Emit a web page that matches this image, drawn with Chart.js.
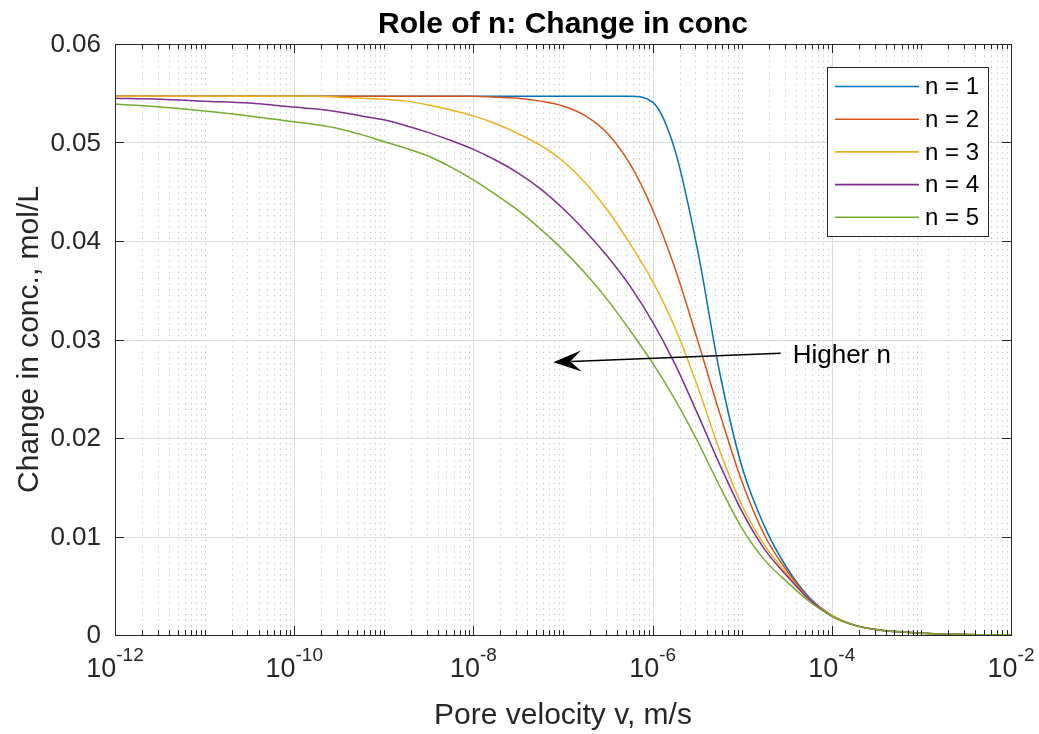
<!DOCTYPE html>
<html>
<head>
<meta charset="utf-8">
<script src="https://cdn.jsdelivr.net/npm/chart.js@4.4.1/dist/chart.umd.min.js"></script>
<style>
  html, body { margin: 0; padding: 0; background: #fff; }
</style>
</head>
<body>
<canvas id="chart" width="1039" height="734"></canvas>
<script>
// pore velocity v, m/s
const velocity = [
  1e-12, 3.16e-12, 1e-11, 3.16e-11, 1e-10, 1.78e-10, 3.16e-10, 5.62e-10, 1e-9, 1.78e-9,
  3.16e-9, 5.62e-9, 1e-8, 1.78e-8, 3.16e-8, 5.62e-8, 1e-7, 1.78e-7, 3.16e-7, 5.62e-7,
  1e-6, 1.78e-6, 3.16e-6, 5.62e-6, 1e-5, 1.78e-5, 3.16e-5, 5.62e-5, 1e-4, 1.78e-4,
  3.16e-4, 1e-3, 3.16e-3, 1e-2
];

// change in conc., mol/L
const concN1 = [
  0.0547, 0.0547, 0.0547, 0.0547, 0.0547, 0.0547, 0.0547, 0.0547, 0.0547, 0.0547,
  0.0547, 0.0547, 0.0547, 0.0547, 0.0547, 0.0547, 0.0547, 0.0547, 0.0547, 0.0547,
  0.0541, 0.0492, 0.0392, 0.0266, 0.0170, 0.0110, 0.0068, 0.0038, 0.0020, 0.0010,
  0.00055, 0.00019, 0.00006, 0.00002
];
const concN2 = [
  0.0547, 0.0547, 0.0547, 0.0547, 0.0547, 0.0547, 0.0547, 0.0547, 0.0547, 0.0547,
  0.0547, 0.0547, 0.0547, 0.0546, 0.0545, 0.0542, 0.0537, 0.0527, 0.0509, 0.0478,
  0.0432, 0.0372, 0.0300, 0.0225, 0.0155, 0.0101, 0.0065, 0.0037, 0.0020, 0.0010,
  0.00055, 0.00019, 0.00006, 0.00002
];
const concN3 = [
  0.0547, 0.0547, 0.0547, 0.0547, 0.0547, 0.0547, 0.0546, 0.0545, 0.0544, 0.0542,
  0.0538, 0.0533, 0.0527, 0.0519, 0.0509, 0.0497, 0.0481, 0.0459, 0.0431, 0.0397,
  0.0359, 0.0312, 0.0253, 0.0187, 0.0131, 0.0091, 0.0062, 0.0036, 0.0020, 0.0010,
  0.00054, 0.00019, 0.00006, 0.00002
];
const concN4 = [
  0.0545, 0.0544, 0.0542, 0.0540, 0.0536, 0.0534, 0.0531, 0.0527, 0.0523, 0.0517,
  0.0510, 0.0502, 0.0493, 0.0482, 0.0469, 0.0453, 0.0433, 0.0410, 0.0384, 0.0354,
  0.0318, 0.0275, 0.0225, 0.0173, 0.0125, 0.0087, 0.0060, 0.0036, 0.0019, 0.0010,
  0.00054, 0.00019, 0.00006, 0.00002
];
const concN5 = [
  0.0539, 0.0536, 0.0532, 0.0527, 0.0521, 0.0518, 0.0514, 0.0508, 0.0501, 0.0494,
  0.0486, 0.0475, 0.0462, 0.0447, 0.0431, 0.0412, 0.0391, 0.0367, 0.0340, 0.0309,
  0.0276, 0.0239, 0.0197, 0.0151, 0.0108, 0.0076, 0.0054, 0.0034, 0.0019, 0.0010,
  0.00053, 0.00019, 0.00006, 0.00002
];

const seriesLabels = ['n = 1', 'n = 2', 'n = 3', 'n = 4', 'n = 5'];
const seriesValues = [concN1, concN2, concN3, concN4, concN5];
const seriesColors = ['#0072BD', '#D95319', '#EDB120', '#7E2F8E', '#77AC30'];

const xTickExponents = [-12, -10, -8, -6, -4, -2];
const yTicks = [0, 0.01, 0.02, 0.03, 0.04, 0.05, 0.06];
const yTickLabels = ['0', '0.01', '0.02', '0.03', '0.04', '0.05', '0.06'];

const titleText = 'Role of n: Change in conc';
const xTitle = 'Pore velocity v, m/s';
const yTitle = 'Change in conc., mol/L';

// "Higher n" arrow, in data units
const note = {
  text: 'Higher n',
  from: { x: 2.69e-5, y: 0.0286 },
  to: { x: 7.8e-8, y: 0.0277 },
  textAt: { x: 3.66e-5, y: 0.0283 }
};

const FONT = '"Liberation Sans", Arial, Helvetica, sans-serif';
const INK = '#262626';

function seg(ctx, x0, y0, x1, y1) {
  ctx.beginPath();
  ctx.moveTo(x0, y0);
  ctx.lineTo(x1, y1);
  ctx.stroke();
}

const matlabLook = {
  id: 'matlabLook',
  beforeDatasetsDraw(chart) {
    const { ctx, chartArea: a, scales: { x, y } } = chart;
    ctx.save();
    // minor dotted grid
    ctx.strokeStyle = 'rgba(60,60,60,0.32)';
    ctx.lineWidth = 1;
    ctx.setLineDash([1.2, 4.5]);
    for (let e = -12; e < -2; e++) {
      for (let m = 1; m < 10; m++) {
        if (m === 1 && e % 2 === 0) continue;
        const px = Math.round(x.getPixelForValue(m * Math.pow(10, e))) + 0.5;
        seg(ctx, px, a.top, px, a.bottom);
      }
    }
    ctx.setLineDash([]);
    // major grid
    ctx.strokeStyle = '#dcdcdc';
    xTickExponents.forEach(e => {
      const px = Math.round(x.getPixelForValue(Math.pow(10, e))) + 0.5;
      seg(ctx, px, a.top, px, a.bottom);
    });
    yTicks.forEach(v => {
      const py = Math.round(y.getPixelForValue(v)) + 0.5;
      seg(ctx, a.left, py, a.right, py);
    });
    ctx.restore();
  },
  afterDatasetsDraw(chart) {
    const { ctx, chartArea: a, scales: { x, y } } = chart;
    ctx.save();
    ctx.strokeStyle = INK;
    ctx.fillStyle = INK;
    ctx.lineWidth = 1;

    // axes box
    ctx.strokeRect(Math.round(a.left) + 0.5, Math.round(a.top) + 0.5,
      Math.round(a.right - a.left), Math.round(a.bottom - a.top));

    // x ticks (top and bottom, inward)
    for (let e = -12; e <= -2; e++) {
      for (let m = 1; m < 10; m++) {
        if (e === -2 && m > 1) break;
        const major = m === 1 && e % 2 === 0;
        const len = major ? 9 : 5;
        const px = Math.round(x.getPixelForValue(m * Math.pow(10, e))) + 0.5;
        seg(ctx, px, a.bottom, px, a.bottom - len);
        seg(ctx, px, a.top, px, a.top + len);
      }
    }
    // y ticks
    yTicks.forEach(v => {
      const py = Math.round(y.getPixelForValue(v)) + 0.5;
      seg(ctx, a.left, py, a.left + 9, py);
      seg(ctx, a.right, py, a.right - 9, py);
    });

    // y tick labels
    ctx.font = '26px ' + FONT;
    ctx.textAlign = 'right';
    ctx.textBaseline = 'middle';
    yTicks.forEach((v, i) => {
      ctx.fillText(yTickLabels[i], a.left - 14, y.getPixelForValue(v) + 1);
    });

    // x tick labels 10^e
    ctx.textBaseline = 'alphabetic';
    ctx.textAlign = 'left';
    xTickExponents.forEach(e => {
      const px = x.getPixelForValue(Math.pow(10, e));
      ctx.font = '27px ' + FONT;
      const w1 = ctx.measureText('10').width;
      ctx.font = '19px ' + FONT;
      const sup = String(e);
      const w2 = ctx.measureText(sup).width;
      const left = px - (w1 + w2) / 2;
      ctx.font = '27px ' + FONT;
      ctx.fillText('10', left, a.bottom + 42);
      ctx.font = '19px ' + FONT;
      ctx.fillText(sup, left + w1, a.bottom + 26);
    });

    // axis titles
    ctx.font = '30px ' + FONT;
    ctx.textAlign = 'center';
    ctx.fillText(xTitle, (a.left + a.right) / 2, a.bottom + 89);
    ctx.save();
    ctx.translate(38, (a.top + a.bottom) / 2);
    ctx.rotate(-Math.PI / 2);
    ctx.fillText(yTitle, 0, 0);
    ctx.restore();

    // title
    ctx.font = 'bold 30px ' + FONT;
    ctx.fillStyle = '#000';
    ctx.fillText(titleText, (a.left + a.right) / 2, 33);

    // legend
    const bx = a.right - 184, by = a.top + 23, bw = 161, bh = 169;
    ctx.fillStyle = '#fff';
    ctx.fillRect(bx, by, bw, bh);
    ctx.strokeStyle = INK;
    ctx.strokeRect(bx + 0.5, by + 0.5, bw, bh);
    ctx.font = '24px ' + FONT;
    ctx.textAlign = 'left';
    ctx.textBaseline = 'middle';
    chart.data.datasets.forEach((ds, i) => {
      const ly = by + 19.5 + i * 32.7;
      ctx.strokeStyle = ds.borderColor;
      ctx.lineWidth = 1.6;
      seg(ctx, bx + 8, ly, bx + 92, ly);
      ctx.fillStyle = '#000';
      ctx.fillText(ds.label, bx + 98, ly + 1);
    });

    // arrow annotation
    const x0 = x.getPixelForValue(note.from.x), y0 = y.getPixelForValue(note.from.y);
    const x1 = x.getPixelForValue(note.to.x), y1 = y.getPixelForValue(note.to.y);
    const dx = x0 - x1, dy = y0 - y1, len = Math.hypot(dx, dy);
    const ux = dx / len, uy = dy / len, nx = -uy, ny = ux;
    ctx.strokeStyle = '#000';
    ctx.fillStyle = '#000';
    ctx.lineWidth = 1.4;
    seg(ctx, x0, y0, x1 + ux * 18, y1 + uy * 18);
    ctx.beginPath();
    ctx.moveTo(x1, y1);
    ctx.lineTo(x1 + ux * 28 + nx * 10.5, y1 + uy * 28 + ny * 10.5);
    ctx.lineTo(x1 + ux * 17, y1 + uy * 17);
    ctx.lineTo(x1 + ux * 28 - nx * 10.5, y1 + uy * 28 - ny * 10.5);
    ctx.closePath();
    ctx.fill();
    ctx.font = '26px ' + FONT;
    ctx.textAlign = 'left';
    ctx.textBaseline = 'middle';
    ctx.fillText(note.text, x.getPixelForValue(note.textAt.x), y.getPixelForValue(note.textAt.y));

    ctx.restore();
  }
};

const datasets = seriesLabels.map((label, i) => ({
  label: label,
  data: velocity.map((v, j) => ({ x: v, y: seriesValues[i][j] })),
  borderColor: seriesColors[i],
  backgroundColor: seriesColors[i],
  borderWidth: 1.5,
  pointRadius: 0,
  fill: false,
  cubicInterpolationMode: 'monotone',
  order: seriesLabels.length - i
}));

new Chart(document.getElementById('chart').getContext('2d'), {
  type: 'line',
  data: { datasets: datasets },
  options: {
    responsive: false,
    animation: false,
    devicePixelRatio: 1,
    layout: { padding: { left: 115, top: 44, right: 28, bottom: 99 } },
    plugins: {
      legend: { display: false },
      title: { display: false },
      tooltip: { enabled: false }
    },
    scales: {
      x: { type: 'logarithmic', min: 1e-12, max: 1e-2, display: false },
      y: { type: 'linear', min: 0, max: 0.06, display: false }
    }
  },
  plugins: [matlabLook]
});
</script>
</body>
</html>
